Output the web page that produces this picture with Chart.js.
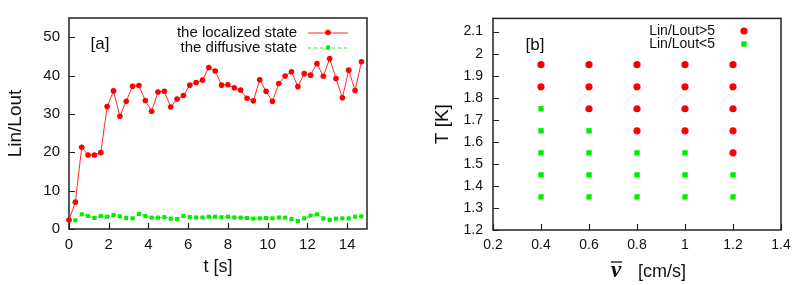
<!DOCTYPE html>
<html><head><meta charset="utf-8">
<script src="https://cdn.jsdelivr.net/npm/chart.js@4.4.1/dist/chart.umd.min.js"></script>
<style>
html,body{margin:0;padding:0;background:#fff;}
#wrap{position:relative;width:806px;height:285px;overflow:hidden;background:#fff;}
.c{position:absolute;top:0;width:403px;height:285px;}
</style></head><body>
<div id="wrap">
<div class="c" style="left:0"><canvas id="a" width="403" height="285"></canvas></div>
<div class="c" style="left:403px"><canvas id="b" width="403" height="285"></canvas></div>
</div>
<script>
// ---------- panel [a] data ----------
const timeSeconds = [0,0.32,0.64,0.96,1.28,1.6,1.92,2.24,2.56,2.88,3.2,3.52,3.84,4.16,4.48,4.8,5.12,5.44,5.76,6.08,6.4,6.72,7.04,7.36,7.68,8.0,8.32,8.64,8.96,9.28,9.6,9.92,10.24,10.56,10.88,11.2,11.52,11.84,12.16,12.48,12.8,13.12,13.44,13.76,14.08,14.4,14.72];
const localizedState = [2.35,7.0,21.3,19.3,19.3,19.9,31.9,36.0,29.4,33.3,37.2,37.4,33.5,30.7,35.7,35.9,31.8,33.9,34.8,37.5,38.2,38.8,42.1,41.2,37.5,37.6,36.8,36.2,34.1,33.4,38.9,35.9,33.3,37.9,39.9,41.0,37.1,40.5,40.1,43.1,39.8,44.4,39.2,34.2,41.4,36.1,43.6];
const diffusiveState = [2.27,2.27,3.83,3.4,2.87,3.4,3.2,3.65,3.3,2.87,2.78,3.9,3.4,2.96,2.96,3.1,2.7,2.6,3.4,3.1,3.0,3.0,3.2,3.2,3.05,3.2,3.0,2.96,2.87,2.7,2.78,2.87,2.78,3.0,2.96,2.6,2.1,2.78,3.5,3.83,2.78,2.35,2.7,2.78,2.78,3.2,3.3];
const tTicks = [0,2,4,6,8,10,12,14];
const ratioTicks = [0,10,20,30,40,50];

// ---------- panel [b] data ----------
const highV = [0.4,0.4,0.6,0.6,0.6,0.8,0.8,0.8,0.8,1.0,1.0,1.0,1.0,1.2,1.2,1.2,1.2,1.2];
const highT = [1.95,1.85,1.95,1.85,1.75,1.95,1.85,1.75,1.65,1.95,1.85,1.75,1.65,1.95,1.85,1.75,1.65,1.55];
const lowV = [0.4,0.4,0.4,0.4,0.4,0.6,0.6,0.6,0.6,0.8,0.8,0.8,1.0,1.0,1.0,1.2,1.2];
const lowT = [1.75,1.65,1.55,1.45,1.35,1.65,1.55,1.45,1.35,1.55,1.45,1.35,1.55,1.45,1.35,1.45,1.35];
const vTicks = [0.2,0.4,0.6,0.8,1.0,1.2,1.4];
const TTicks = [1.2,1.3,1.4,1.5,1.6,1.7,1.8,1.9,2.0,2.1];

const FONT = '"Liberation Sans", Arial, Helvetica, sans-serif';
const INK = '#111';
Chart.defaults.font.family = FONT;
Chart.defaults.color = INK;

const zip = (xs, ys) => xs.map((x, i) => ({x: x, y: ys[i]}));
const fmt = v => String(+Number(v).toFixed(1));

// frame + inward ticks
const frameTicks = {
  id: 'frameTicks',
  beforeDatasetsDraw(chart, args, o) {
    const {ctx, chartArea: a, scales} = chart;
    ctx.save();
    ctx.strokeStyle = '#222';
    ctx.lineWidth = 1.5;
    ctx.strokeRect(a.left, a.top, a.right - a.left, a.bottom - a.top);
    ctx.lineWidth = 1.2;
    ctx.beginPath();
    scales.x.ticks.forEach(t => {
      const px = Math.round(scales.x.getPixelForValue(t.value)) + 0.5;
      ctx.moveTo(px, a.bottom); ctx.lineTo(px, a.bottom - o.len);
    });
    scales.y.ticks.forEach(t => {
      const py = Math.round(scales.y.getPixelForValue(t.value)) + 0.5;
      ctx.moveTo(a.left, py); ctx.lineTo(a.left + o.len, py);
    });
    ctx.stroke();
    ctx.restore();
  }
};

// in-plot annotations (panel label + key)
const keyPlugin = {
  id: 'keyPlugin',
  afterDraw(chart, args, o) {
    const ctx = chart.ctx;
    ctx.save();
    ctx.fillStyle = INK;
    ctx.textBaseline = 'middle';
    ctx.font = o.tagFont;
    ctx.textAlign = 'center';
    ctx.fillText(o.tag, o.tagX, o.tagY);
    ctx.font = o.font;
    ctx.textAlign = 'right';
    o.items.forEach(it => {
      ctx.fillStyle = INK;
      ctx.fillText(it.text, o.textRight, it.y);
      if (it.line) {
        ctx.strokeStyle = it.lineColor;
        ctx.lineWidth = 1;
        ctx.setLineDash(it.dash || []);
        ctx.beginPath();
        ctx.moveTo(o.lineFrom, it.y + 0.5); ctx.lineTo(o.lineTo, it.y + 0.5);
        ctx.stroke();
        ctx.setLineDash([]);
      }
      ctx.fillStyle = it.color;
      ctx.beginPath();
      if (it.shape === 'circle') ctx.arc(o.markX, it.y, it.r, 0, Math.PI * 2);
      else ctx.rect(o.markX - it.r, it.y - it.r, it.r * 2, it.r * 2);
      ctx.fill();
    });
    if (o.vbar) {
      const vb = o.vbar;
      ctx.fillStyle = INK;
      ctx.textAlign = 'center';
      ctx.textBaseline = 'alphabetic';
      ctx.font = 'bold italic 23px "Liberation Serif", "DejaVu Serif", serif';
      ctx.fillText('v', vb.x, vb.base);
      ctx.strokeStyle = INK;
      ctx.lineWidth = 1.3;
      ctx.beginPath();
      ctx.moveTo(vb.x - 5, vb.barY); ctx.lineTo(vb.x + 6, vb.barY);
      ctx.stroke();
      ctx.textAlign = 'left';
      ctx.font = '18px ' + FONT;
      ctx.fillText('[cm/s]', vb.unitX, vb.base);
    }
    ctx.restore();
  }
};

new Chart(document.getElementById('a'), {
  type: 'line',
  data: {
    datasets: [
      {label: 'the localized state', data: zip(timeSeconds, localizedState),
       borderColor: '#ff2a2a', backgroundColor: '#ff0000', borderWidth: 1,
       pointRadius: 2.8, pointBorderWidth: 0, pointStyle: 'circle', tension: 0, clip: false},
      {label: 'the diffusive state', data: zip(timeSeconds, diffusiveState),
       borderColor: '#33ee33', backgroundColor: '#00ee00', borderWidth: 1, borderDash: [3, 3],
       pointRadius: 2.9, pointBorderWidth: 0, pointStyle: 'rect', tension: 0, clip: false}
    ]
  },
  options: {
    responsive: false, animation: false, devicePixelRatio: 1,
    layout: {padding: {top: 18, right: 36, left: 0, bottom: 0}},
    plugins: {
      legend: {display: false}, tooltip: {enabled: false},
      frameTicks: {len: 6},
      keyPlugin: {
        tag: '[a]', tagX: 100, tagY: 44, tagFont: '17px ' + FONT,
        font: '15px ' + FONT, textRight: 297, lineFrom: 308, lineTo: 348, markX: 328,
        items: [
          {text: 'the localized state', y: 32.5, line: true, lineColor: '#ff2a2a', color: '#ff0000', shape: 'circle', r: 2.8},
          {text: 'the diffusive state', y: 47.5, line: true, lineColor: '#33ee33', dash: [3, 3], color: '#00ee00', shape: 'rect', r: 2.1}
        ]
      }
    },
    scales: {
      x: {type: 'linear', min: 0, max: 15,
          afterBuildTicks: s => { s.ticks = tTicks.map(v => ({value: v})); },
          afterFit: s => { s.height = 56; },
          grid: {display: false, drawTicks: false}, border: {display: false},
          ticks: {padding: 7, font: {size: 15}, color: INK, maxRotation: 0, callback: v => fmt(v)},
          title: {display: true, text: 't [s]', font: {size: 18}, color: INK, padding: {top: 0, bottom: 7}}},
      y: {type: 'linear', min: 0, max: 55,
          afterBuildTicks: s => { s.ticks = ratioTicks.map(v => ({value: v})); },
          afterFit: s => { s.width = 69; },
          grid: {display: false, drawTicks: false}, border: {display: false},
          ticks: {padding: 9, font: {size: 15}, color: INK, callback: v => fmt(v)},
          title: {display: true, text: 'Lin/Lout', font: {size: 19}, color: INK, padding: {top: 4, bottom: 0}}}
    }
  },
  plugins: [frameTicks, keyPlugin]
});

new Chart(document.getElementById('b'), {
  type: 'scatter',
  data: {
    datasets: [
      {label: 'Lin/Lout>5', data: zip(highV, highT), backgroundColor: '#ff0000', borderWidth: 0,
       pointRadius: 3.6, pointStyle: 'circle', clip: false},
      {label: 'Lin/Lout<5', data: zip(lowV, lowT), backgroundColor: '#00ee00', borderWidth: 0,
       pointRadius: 3.8, pointStyle: 'rect', clip: false}
    ]
  },
  options: {
    responsive: false, animation: false, devicePixelRatio: 1,
    layout: {padding: {top: 16, right: 25, left: 0, bottom: 0}},
    plugins: {
      legend: {display: false}, tooltip: {enabled: false},
      frameTicks: {len: 6},
      keyPlugin: {
        tag: '[b]', tagX: 132, tagY: 45, tagFont: '17px ' + FONT,
        font: '14px ' + FONT, textRight: 312, markX: 341,
        items: [
          {text: 'Lin/Lout>5', y: 31, color: '#ff0000', shape: 'circle', r: 3.6},
          {text: 'Lin/Lout<5', y: 44, color: '#00ee00', shape: 'rect', r: 2.7}
        ],
        vbar: {x: 213, base: 277, barY: 262, unitX: 235}
      }
    },
    scales: {
      x: {type: 'linear', min: 0.2, max: 1.4,
          afterBuildTicks: s => { s.ticks = vTicks.map(v => ({value: v})); },
          afterFit: s => { s.height = 55; },
          grid: {display: false, drawTicks: false}, border: {display: false},
          ticks: {padding: 7, font: {size: 14}, color: INK, maxRotation: 0, callback: v => fmt(v)},
          title: {display: false}},
      y: {type: 'linear', min: 1.2, max: 2.16,
          afterBuildTicks: s => { s.ticks = TTicks.map(v => ({value: v})); },
          afterFit: s => { s.width = 90; },
          grid: {display: false, drawTicks: false}, border: {display: false},
          ticks: {padding: 10, font: {size: 14}, color: INK, callback: v => fmt(v)},
          title: {display: true, text: 'T [K]', font: {size: 19}, color: INK, padding: {top: 28, bottom: 0}}}
    }
  },
  plugins: [frameTicks, keyPlugin]
});
</script>
</body></html>
